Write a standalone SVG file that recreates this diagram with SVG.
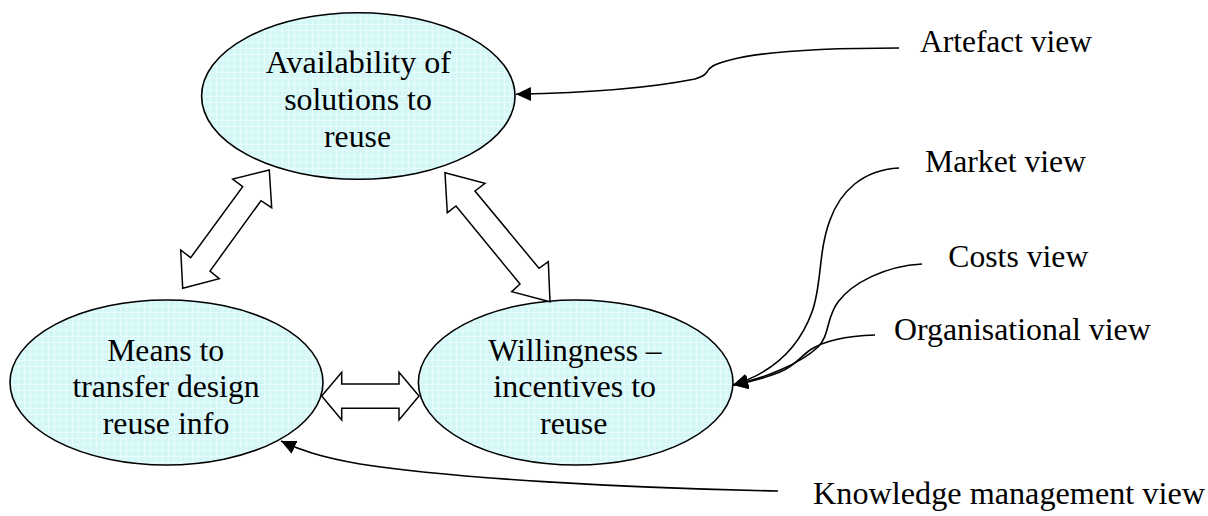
<svg xmlns="http://www.w3.org/2000/svg" width="1208" height="516" viewBox="0 0 1208 516">
  <style>
    .node-shape { fill: url(#tint); stroke: #000; stroke-width: 1.6; }
    .label { font-family: "Liberation Serif", "Times New Roman", serif; font-size: 32px; fill: #000; }
    .mid { text-anchor: middle; }
    .link { fill: none; stroke: #000; stroke-width: 1.6; marker-end: url(#head); }
    .block { fill: #fff; stroke: #000; stroke-width: 1.5; stroke-linejoin: miter; }
  </style>
  <defs>
    <!-- light cyan fill with a faint grid texture -->
    <pattern id="tint" width="6" height="6" patternUnits="userSpaceOnUse">
      <rect width="6" height="6" fill="#d3f7f7"/>
      <path d="M0 0.5H6M0.5 0V6" stroke="#e9fcfc" stroke-width="1"/>
    </pattern>
    <marker id="head" markerUnits="userSpaceOnUse" markerWidth="16" markerHeight="14" refX="15" refY="7" orient="auto">
      <path d="M0,0 L15,7 L0,14 z" fill="#000"/>
    </marker>
  </defs>

  <rect width="1208" height="516" fill="#fff"/>

  <!-- core nodes -->
  <g id="availability">
    <ellipse class="node-shape" cx="358.3" cy="96" rx="156.7" ry="83.3"/>
    <text class="label mid" x="358.3" y="72.7" textLength="185" lengthAdjust="spacingAndGlyphs">Availability of</text>
    <text class="label mid" x="358" y="110" textLength="147.7" lengthAdjust="spacingAndGlyphs">solutions to</text>
    <text class="label mid" x="357.5" y="146.7" textLength="67" lengthAdjust="spacingAndGlyphs">reuse</text>
  </g>

  <g id="means">
    <ellipse class="node-shape" cx="166.5" cy="382.5" rx="156.5" ry="82.5"/>
    <text class="label mid" x="165.7" y="360.7" textLength="117" lengthAdjust="spacingAndGlyphs">Means to</text>
    <text class="label mid" x="166" y="397.3" textLength="187" lengthAdjust="spacingAndGlyphs">transfer design</text>
    <text class="label mid" x="166" y="434" textLength="126.7" lengthAdjust="spacingAndGlyphs">reuse info</text>
  </g>

  <g id="willingness">
    <ellipse class="node-shape" cx="575.7" cy="382.5" rx="157.3" ry="82.5"/>
    <text class="label mid" x="575" y="360.7" textLength="173.3" lengthAdjust="spacingAndGlyphs">Willingness –</text>
    <text class="label mid" x="574.7" y="397.3" textLength="162.7" lengthAdjust="spacingAndGlyphs">incentives to</text>
    <text class="label mid" x="573.7" y="434" textLength="67.3" lengthAdjust="spacingAndGlyphs">reuse</text>
  </g>

  <!-- view labels -->
  <g id="artefact-view">
    <text class="label" x="920" y="52" textLength="172" lengthAdjust="spacingAndGlyphs">Artefact view</text>
  </g>
  <g id="market-view">
    <text class="label" x="925" y="171.7" textLength="161" lengthAdjust="spacingAndGlyphs">Market view</text>
  </g>
  <g id="costs-view">
    <text class="label" x="948.3" y="266.7" textLength="140" lengthAdjust="spacingAndGlyphs">Costs view</text>
  </g>
  <g id="organisational-view">
    <text class="label" x="894" y="340" textLength="256.7" lengthAdjust="spacingAndGlyphs">Organisational view</text>
  </g>
  <g id="knowledge-view">
    <text class="label" x="813" y="504" textLength="392" lengthAdjust="spacingAndGlyphs">Knowledge management view</text>
  </g>

  <!-- connectors -->
  <g id="connectors">
    <!-- hollow double-headed block arrows between the core nodes -->
    <polygon class="block" points="269.3,170 271.7,207.7 261,200.7 210,271 219.3,278.7 182.7,288.3 180.7,250 190.7,257.7 242.7,186.7 232.7,179"/>
    <polygon class="block" points="445,172.7 485,183.3 475,191 539,268.3 548.3,261.7 550,301.7 511.7,291.7 520,284 456,206 447.3,212.7"/>
    <polygon class="block" points="321.7,396 341.7,372.3 341.7,384 399,384 399,372.3 419,396 399,420 399,408.3 341.7,408.3 341.7,420"/>

    <!-- view curves -->
    <path class="link" d="M899,48 C820,48 760,52 730,60 C713,64 709,68 707,72 C705,75 702,77 695,79 C650,88 580,93 516,94.3"/>
    <path class="link" d="M899,168 C862,170 840,192 830,220 C818,252 822,285 812,312 C800,345 775,372 733,385"/>
    <path class="link" d="M922,264 C885,266 852,283 838,302 C826,318 830,335 818,347 C800,364 765,378 733,385"/>
    <path class="link" d="M875,335 C845,336 822,342 810,350 C800,357 795,366 780,372 C765,378 750,382 733,385"/>
    <path class="link" d="M778,491 C620,488 450,478 360,464 C320,457 300,450 281,441"/>
  </g>
</svg>
